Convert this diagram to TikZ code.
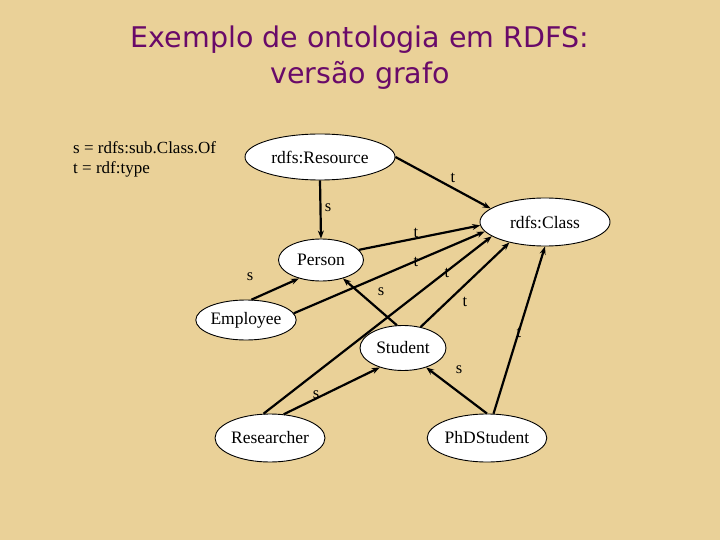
\documentclass[tikz,border=0pt]{standalone}
\usepackage{fontspec}
\setmainfont{Liberation Serif}
\newfontfamily\titlefont{DejaVu Sans}
\usetikzlibrary{shapes.geometric,arrows.meta}
\definecolor{bg}{RGB}{234,209,152}
\definecolor{ttl}{RGB}{105,10,105}
\begin{document}
\begin{tikzpicture}[x=1pt,y=-1pt,
  cls/.style={ellipse,draw=black,line width=0.9pt,fill=white,inner sep=0pt,font=\fontsize{17.5}{20}\selectfont},
  arr/.style={-{Stealth[length=8pt,width=6pt]},line width=2.2pt},
  lbl/.style={font=\fontsize{16.5}{18}\selectfont}]
\fill[bg] (0,0) rectangle (720,540);
\useasboundingbox (0,0) rectangle (720,540);
\node[text=ttl,font=\titlefont\fontsize{28.5}{36}\selectfont,align=center] (title) at (360,58) {Exemplo de ontologia em RDFS:\\versão grafo};
\node[anchor=north west,align=left,font=\fontsize{17}{20}\selectfont,inner sep=0pt] (legend) at (73,141) {s = rdfs:sub.Class.Of\\t = rdf:type};
\node[cls,minimum width=150pt,minimum height=46pt] (res) at (320,157) {rdfs:Resource};
\node[cls,minimum width=130pt,minimum height=48pt] (class) at (545,222) {rdfs:Class};
\node[cls,minimum width=85pt,minimum height=42pt] (person) at (321,260) {Person};
\node[cls,minimum width=90pt,minimum height=40pt] (emp) at (246,320) {Employee};
\node[cls,minimum width=86pt,minimum height=45pt] (stu) at (403,348) {Student};
\node[cls,minimum width=97pt,minimum height=48pt] (rsch) at (270,438) {Researcher};
\node[cls,minimum width=98pt,minimum height=48pt] (phd) at (487,438) {PhDStudent};
\draw[arr] (res.south) -- (person.north);
\draw[arr] (res.east) -- (class.166);
\draw[arr] (person.15) -- (class.183);
\draw[arr] (emp.8) -- (class.189);
\draw[arr] (rsch.105) -- (class.195);
\draw[arr] (stu.50) -- (class.210);
\draw[arr] (phd.75) -- (class.270);
\draw[arr] (emp.75) -- (person.220);
\draw[arr] (stu.105) -- (person.320);
\draw[arr] (rsch.60) -- (stu.220);
\draw[arr] (phd.north) -- (stu.320);
\node[lbl] (l1) at (453,178) {t};
\node[lbl] (l2) at (328,208) {s};
\node[lbl] (l3) at (416,233) {t};
\node[lbl] (l4) at (416,262) {t};
\node[lbl] (l5) at (250,277) {s};
\node[lbl] (l6) at (381,292) {s};
\node[lbl] (l7) at (447,273) {t};
\node[lbl] (l8) at (465,302) {t};
\node[lbl] (l9) at (519,333) {t};
\node[lbl] (l10) at (459,370) {s};
\node[lbl] (l11) at (316,395) {s};
\end{tikzpicture}
\end{document}
